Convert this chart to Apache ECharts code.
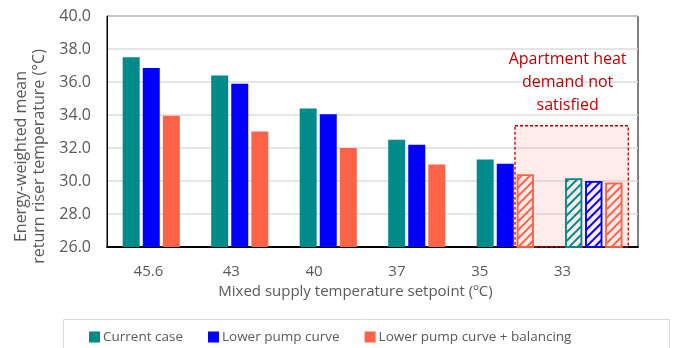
<!DOCTYPE html>
<html><head><meta charset="utf-8">
<script src="https://cdn.jsdelivr.net/npm/echarts@6/dist/echarts.min.js"></script>
<style>html,body{margin:0;padding:0;background:#fff}#c{width:676px;height:348px}</style>
</head><body><div id="c"></div>
<script>
const categories = ['45.6', '43', '40', '37', '35', '33'];
const seriesNames = ['Current case', 'Lower pump curve', 'Lower pump curve + balancing'];
const currentCase = [37.5, 36.4, 34.4, 32.5, 31.3, 30.15];
const lowerPump = [36.85, 35.9, 34.05, 32.2, 31.05, 30.0];
const lowerPumpBalancing = [33.95, 33.0, 32.0, 31.0, 30.4, 29.9];
const hatchedCurrent = [5];
const hatchedLowerPump = [5];
const hatchedBalancing = [4, 5];
const yMin = 26, yMax = 40, yStep = 2;
const notSatisfiedTop = 33.35;
const annotationText = 'Apartment heat\ndemand not\nsatisfied';

const colors = ['#008B8B', '#0000FF', '#FF6347'];
const FONT = "'Open Sans', sans-serif";
const GREY = '#595959';

function build(values, hatched, color) {
  return values.map((v, i) => hatched.includes(i) ? {
    value: v,
    itemStyle: {
      color: 'rgba(255,255,255,0.01)', borderColor: color, borderWidth: 1.5,
      decal: { symbol: 'rect', symbolSize: 1, dashArrayX: [1, 0], dashArrayY: [2, 3.5], rotation: -Math.PI / 4, color: color }
    }
  } : v);
}

const chart = echarts.init(document.getElementById('c'), null, { renderer: 'canvas' });
const seriesData = [
  build(currentCase, hatchedCurrent, colors[0]),
  build(lowerPump, hatchedLowerPump, colors[1]),
  build(lowerPumpBalancing, hatchedBalancing, colors[2])
];

chart.setOption({
  animation: false,
  color: colors,
  textStyle: { fontFamily: FONT },
  grid: [
    { left: 107, right: 38, top: 16, bottom: 101, show: true, borderColor: '#000', borderWidth: 1,
      backgroundColor: 'transparent', containLabel: false, outerBoundsMode: 'none' },
    { left: 107, right: 72, top: 16, bottom: 101, containLabel: false, outerBoundsMode: 'none' }
  ],
  xAxis: [
    { type: 'category', gridIndex: 0, data: categories, axisTick: { show: false }, axisLabel: { show: false },
      axisLine: { show: true, lineStyle: { color: '#000', width: 2 } } },
    { type: 'category', gridIndex: 1, data: categories, axisTick: { show: false }, axisLine: { show: false },
      axisLabel: { margin: 17, fontSize: 15, color: GREY, fontFamily: FONT },
      name: 'Mixed supply temperature setpoint (ºC)', nameLocation: 'middle', nameGap: 34,
      nameTextStyle: { fontSize: 15, color: GREY, fontFamily: FONT } }
  ],
  yAxis: [
    { type: 'value', gridIndex: 0, min: yMin, max: yMax, interval: yStep,
      axisLine: { show: true, lineStyle: { color: '#000', width: 1 } }, axisTick: { show: false },
      axisLabel: { margin: 16, fontSize: 16, color: GREY, fontFamily: FONT, formatter: v => v.toFixed(1) },
      splitLine: { show: true, lineStyle: { color: '#dcdcdc', width: 1.5 } },
      name: 'Energy-weighted mean\nreturn riser temperature (°C)', nameLocation: 'middle', nameRotate: 90, nameGap: 58,
      nameTextStyle: { fontSize: 16, color: GREY, fontFamily: FONT, lineHeight: 18, padding: [0, 50, 0, 0] } },
    { type: 'value', gridIndex: 1, min: yMin, max: yMax, interval: yStep, show: false }
  ],
  legend: {
    left: 89, top: 330, padding: 0, itemWidth: 11, itemHeight: 11, itemGap: 25, icon: 'rect',
    textStyle: { fontSize: 13.5, color: GREY, fontFamily: FONT, padding: [0, 0, 0, -2] },
    data: seriesNames
  },
  series: seriesNames.map((n, k) => ({
    name: n, type: 'bar', xAxisIndex: 0, yAxisIndex: 0, barWidth: 17, barGap: '18%',
    data: seriesData[k], z: 3
  }))
});

const p4 = chart.convertToPixel({ xAxisIndex: 0 }, categories[4]);
const p5 = chart.convertToPixel({ xAxisIndex: 0 }, categories[5]);
const bw = p5 - p4;
const bx0 = p4 + 0.11 * bw, bx1 = p5 + 0.39 * bw;
const by0 = chart.convertToPixel({ yAxisIndex: 0 }, notSatisfiedTop);
const by1 = chart.convertToPixel({ yAxisIndex: 0 }, yMin);

chart.setOption({
  graphic: [
    { type: 'rect', z: 1, shape: { x: bx0, y: by0, width: bx1 - bx0, height: by1 - by0 },
      style: { fill: 'rgba(250,170,160,0.22)', stroke: '#c00000', lineWidth: 1.3, lineDash: [3, 2] } },
    { type: 'text', z: 10, style: { text: annotationText, x: (bx0 + bx1) / 2 - 4, y: by0 - 43,
      align: 'center', verticalAlign: 'middle', fontSize: 16, lineHeight: 23, fontFamily: FONT, fill: '#c00000' } },
    { type: 'rect', z: 0, shape: { x: 63.5, y: 319.5, width: 606, height: 40 },
      style: { fill: 'transparent', stroke: '#d9d9d9', lineWidth: 1 } }
  ]
});
</script></body></html>
